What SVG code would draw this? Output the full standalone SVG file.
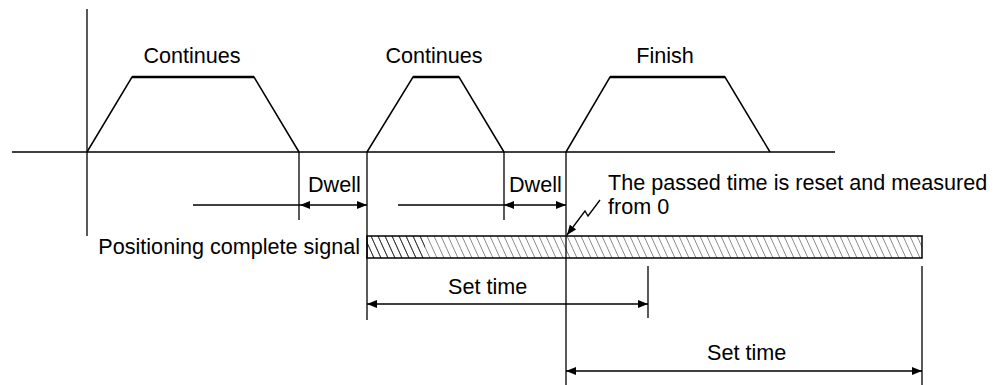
<svg xmlns="http://www.w3.org/2000/svg" width="1000" height="385" viewBox="0 0 1000 385">
<style>
.ln{stroke:#000;stroke-width:1.3;fill:none}
.tr{stroke:#000;stroke-width:1.5;fill:none;stroke-linejoin:miter}
.top{stroke:#000;stroke-width:2.4}
.t{font-family:"Liberation Sans",Arial,sans-serif;font-size:21.6px;fill:#000}
.ar{stroke:#000;stroke-width:1.3;fill:none;marker-end:url(#ah)}
.da{stroke:#000;stroke-width:1.3;fill:none;marker-start:url(#ah);marker-end:url(#ah)}
</style>
<defs>
<marker id="ah" viewBox="0 0 10 8" refX="10" refY="4" markerWidth="10" markerHeight="8" markerUnits="userSpaceOnUse" orient="auto-start-reverse">
<path d="M0,0 L10,4 L0,8 z" fill="#000"/>
</marker>
<pattern id="hatch" patternUnits="userSpaceOnUse" x="0" y="236" width="7" height="22">
<path d="M-7,0 L3,22 M0,0 L10,22 M7,0 L17,22" stroke="#8a8a8a" stroke-width="1"/>
</pattern>
<pattern id="hatchd" patternUnits="userSpaceOnUse" x="0" y="236" width="7" height="22">
<path d="M-7,0 L3,22 M0,0 L10,22 M7,0 L17,22" stroke="#333" stroke-width="1"/>
</pattern>
</defs>
<rect width="1000" height="385" fill="#fff"/>

<g id="axes">
<line class="ln" x1="87" y1="9" x2="87" y2="236"/>
<line class="ln" x1="12" y1="152" x2="835" y2="152"/>
</g>

<g id="profile1">
<polyline class="tr" points="87,152 132,77 254,77 299,152"/>
<line class="top" x1="132" y1="77" x2="254" y2="77"/>
<text class="t" x="192" y="63" text-anchor="middle">Continues</text>
</g>
<g id="profile2">
<polyline class="tr" points="367,152 413,77 459,77 504,152"/>
<line class="top" x1="413" y1="77" x2="459" y2="77"/>
<text class="t" x="434" y="63" text-anchor="middle">Continues</text>
</g>
<g id="profile3">
<polyline class="tr" points="566,152 610,77 725,77 770,152"/>
<line class="top" x1="610" y1="77" x2="725" y2="77"/>
<text class="t" x="665" y="63" text-anchor="middle">Finish</text>
</g>

<g id="signal">
<rect x="367" y="236" width="555" height="22" fill="url(#hatch)"/>
<rect x="367" y="236" width="58" height="22" fill="url(#hatchd)"/>
<rect x="367" y="236" width="555" height="22" fill="none" stroke="#000" stroke-width="1.5"/>
<text class="t" x="360" y="254" text-anchor="end">Positioning complete signal</text>
</g>

<g id="guides">
<line class="ln" x1="299" y1="152" x2="299" y2="220"/>
<line class="ln" x1="367" y1="152" x2="367" y2="320"/>
<line class="ln" x1="504" y1="152" x2="504" y2="220"/>
<line class="ln" x1="566" y1="152" x2="566" y2="385"/>
<line class="ln" x1="648" y1="266" x2="648" y2="318"/>
<line class="ln" x1="922" y1="266" x2="922" y2="385"/>
</g>

<g id="connectors">
<line class="ln" x1="193" y1="205" x2="300" y2="205"/>
<line class="da" x1="300" y1="205" x2="367" y2="205"/>
<line class="ln" x1="398" y1="205" x2="504" y2="205"/>
<line class="da" x1="504" y1="205" x2="566" y2="205"/>
<line class="da" x1="367" y1="304" x2="648" y2="304"/>
<line class="da" x1="566" y1="371" x2="922" y2="371"/>
<polyline class="ar" points="600,200 588,216 585,211 567,235"/>
</g>

<g id="labels">
<text class="t" x="308" y="192">Dwell</text>
<text class="t" x="509" y="192">Dwell</text>
<text class="t" x="608" y="190">The passed time is reset and measured</text>
<text class="t" x="608" y="214">from 0</text>
<text class="t" x="448" y="294">Set time</text>
<text class="t" x="707" y="360">Set time</text>
</g>
</svg>
